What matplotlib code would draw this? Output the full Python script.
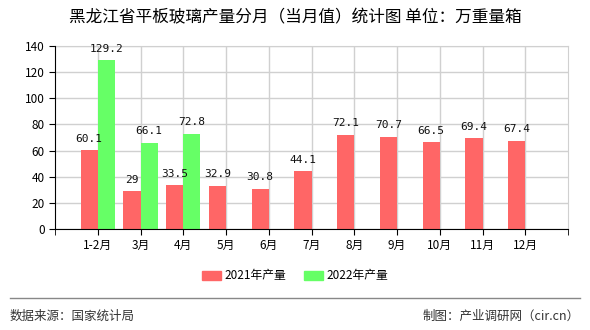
import numpy as np
import matplotlib.pyplot as plt
from matplotlib.patches import Patch

plt.rcParams['font.family'] = ['Noto Sans CJK SC', 'DejaVu Sans']

# data
months = ["1-2月", "3月", "4月", "5月", "6月", "7月", "8月", "9月", "10月", "11月", "12月"]
prod_2021 = [60.1, 29, 33.5, 32.9, 30.8, 44.1, 72.1, 70.7, 66.5, 69.4, 67.4]
prod_2022 = [129.2, 66.1, 72.8]
labels_2021 = ["60.1", "29", "33.5", "32.9", "30.8", "44.1", "72.1", "70.7", "66.5", "69.4", "67.4"]
labels_2022 = ["129.2", "66.1", "72.8"]

red = "#ff6666"
green = "#66ff66"

fig = plt.figure(figsize=(5.9, 3.3), dpi=100)
ax = fig.add_axes([55 / 590, 1 - 229 / 330, 513 / 590, 183 / 330])

x = np.arange(1, len(months) + 1)
w = 0.4
ax.bar(x - w / 2, prod_2021, width=w, color=red, zorder=3)
ax.bar(x[:len(prod_2022)] + w / 2, prod_2022, width=w, color=green, zorder=3)

# value labels
for xi, v, s in zip(x, prod_2021, labels_2021):
    ax.text(xi - w / 2, v + 5, s, ha="center", va="bottom", fontsize=8,
            family=["DejaVu Sans Mono"], color="#111111", zorder=4)
for xi, v, s in zip(x, prod_2022, labels_2022):
    ax.text(xi + w / 2, v + 5, s, ha="center", va="bottom", fontsize=8,
            family=["DejaVu Sans Mono"], color="#111111", zorder=4)

ax.set_xlim(0, 12)
ax.set_ylim(0, 140)
ax.set_yticks(range(0, 141, 20))
ax.set_xticks(list(x))
ax.set_xticklabels(months)
ax.set_xticks([0, 12], minor=True)
ax.tick_params(axis="both", labelsize=8.5, length=4, color="black")
ax.tick_params(axis="x", which="minor", length=4)

ax.grid(True, color="#d0d0d0", linewidth=1, zorder=0)
for s in ["top", "right"]:
    ax.spines[s].set_color("#d0d0d0")
for s in ["left", "bottom"]:
    ax.spines[s].set_color("black")
    ax.spines[s].set_zorder(5)

# title
fig.text(0.5, 1 - 18 / 330, "黑龙江省平板玻璃产量分月（当月值）统计图 单位：万重量箱",
         ha="center", va="center", fontsize=12)

# legend
handles = [Patch(color=red, label="2021年产量"), Patch(color=green, label="2022年产量")]
fig.legend(handles=handles, loc="center", bbox_to_anchor=(0.5, 1 - 276 / 330), ncol=2,
           frameon=False, fontsize=8.5, handlelength=1.6, handleheight=0.8,
           columnspacing=1.5, handletextpad=0.3)

# footer
fig.add_artist(plt.Line2D([10 / 590, 580 / 590], [1 - 298 / 330] * 2, color="#888888", linewidth=1))
fig.text(10 / 590, 1 - 316 / 330, "数据来源：国家统计局", ha="left", va="center", fontsize=9, color="#333333")
fig.text(580 / 590, 1 - 316 / 330, "制图：产业调研网（cir.cn）", ha="right", va="center", fontsize=9, color="#333333")

fig.savefig("out.png", dpi=100)
